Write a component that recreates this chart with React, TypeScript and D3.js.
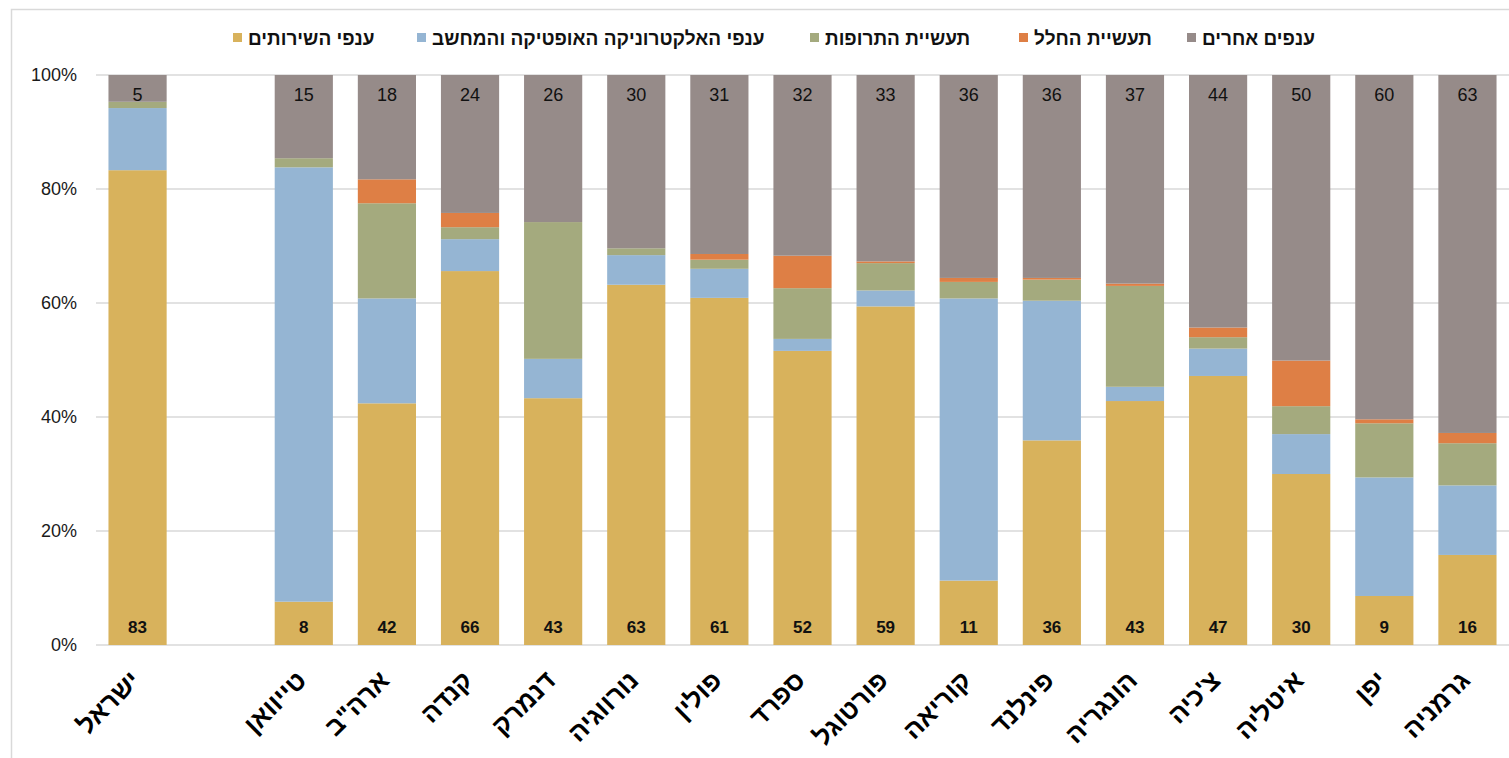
import React from "react";
import * as d3 from "d3";

const categories = ["ישראל", "", "טייוואן", "ארה\"ב", "קנדה", "דנמרק", "נורווגיה", "פולין", "ספרד", "פורטוגל", "קוריאה", "פינלנד", "הונגריה", "צ'כיה", "איטליה", "יפן", "גרמניה"];
const seriesNames = ["ענפי השירותים", "ענפי האלקטרוניקה האופטיקה והמחשב", "תעשיית התרופות", "תעשיית החלל", "ענפים אחרים"];
const services = [83.3, null, 7.6, 42.4, 65.6, 43.3, 63.2, 60.9, 51.6, 59.4, 11.3, 35.9, 42.8, 47.2, 30.0, 8.6, 15.8];
const electronics = [10.9, null, 76.2, 18.4, 5.6, 6.9, 5.2, 5.1, 2.1, 2.8, 49.5, 24.5, 2.5, 4.8, 7.0, 20.8, 12.2];
const pharma = [1.1, null, 1.6, 16.7, 2.1, 24.0, 1.2, 1.6, 8.9, 4.8, 2.9, 3.7, 17.7, 2.0, 4.9, 9.5, 7.4];
const space = [0, null, 0, 4.2, 2.5, 0, 0, 1.0, 5.7, 0.3, 0.7, 0.3, 0.4, 1.7, 8.0, 0.7, 1.8];
const others = [4.7, null, 14.6, 18.3, 24.2, 25.8, 30.4, 31.4, 31.7, 32.7, 35.6, 35.6, 36.6, 44.3, 50.1, 60.4, 62.8];
const yTicks = [0, 0.2, 0.4, 0.6, 0.8, 1.0];
const colors = ["#D8B25C", "#95B5D3", "#A4AA7E", "#DE7F45", "#968B89"];

const W = 1509;
const H = 758;
const plotLeft = 96;
const plotRight = 1509;
const plotTop = 75;
const plotBottom = 645;
const legendX = [248, 432, 825, 1034, 1202];
const FONT = "'Liberation Sans', Arial, sans-serif";

export default function App() {
  const seriesArrays = [services, electronics, pharma, space, others];
  const rows = categories.map((c, i) => {
    const r: any = { cat: c, idx: i, empty: services[i] === null };
    seriesArrays.forEach((arr, k) => (r["s" + k] = arr[i] ?? 0));
    return r;
  });
  const keys = seriesArrays.map((_, k) => "s" + k);
  const stacked = d3.stack<any>().keys(keys).offset(d3.stackOffsetExpand)(rows.map(r => r.empty ? { ...r, s4: 1 } : r));

  const x = d3.scaleBand<string>().domain(categories.map((_, i) => String(i))).range([plotLeft, plotRight]).paddingInner(0.3).paddingOuter(0.15);
  const y = d3.scaleLinear().domain([0, 1]).range([plotBottom, plotTop]);
  const fmt = d3.format(".0%");

  return (
    <svg width={W} height={H} style={{ position: "absolute", left: 0, top: 0, background: "#fff" }} fontFamily={FONT}>
      <rect x={11.5} y={9.5} width={W + 10} height={H + 10} fill="#fff" stroke="#d9d9d9" strokeWidth={1.5} />
      {yTicks.map(t => (
        <g key={t}>
          <line x1={plotLeft} x2={plotRight} y1={y(t)} y2={y(t)} stroke="#d9d9d9" strokeWidth={1.5} />
          <text x={77} y={y(t)} dy="0.35em" textAnchor="end" fontSize={18} fill="#1a1a1a">{fmt(t)}</text>
        </g>
      ))}
      {stacked.map((layer, k) => (
        <g key={k} fill={colors[k]}>
          {layer.map((d, i) => rows[i].empty ? null : (
            <rect key={i} x={x(String(i))} width={x.bandwidth()} y={y(d[1])} height={Math.max(0, y(d[0]) - y(d[1]))} />
          ))}
        </g>
      ))}
      {rows.map((r, i) => r.empty ? null : (
        <g key={"lab" + i}>
          <text x={x(String(i))! + x.bandwidth() / 2} y={101} textAnchor="middle" fontSize={18} fill="#111">{Math.round(others[i] as number)}</text>
          <text x={x(String(i))! + x.bandwidth() / 2} y={633} textAnchor="middle" fontSize={17} fontWeight="bold" fill="#111">{Math.round(services[i] as number)}</text>
        </g>
      ))}
      {rows.map((r, i) => r.empty ? null : (
        <text key={"xl" + i} transform={`translate(${x(String(i))! + x.bandwidth() / 2 + 4},${682}) rotate(-45)`} textAnchor="end" fontSize={26} fontWeight="bold" fill="#000">{r.cat}</text>
      ))}
      {seriesNames.map((n, k) => (
        <g key={"lg" + k}>
          <rect x={legendX[k] - 15} y={33} width={9} height={9} fill={colors[k]} />
          <text x={legendX[k]} y={38} dy="0.35em" fontSize={19} fontWeight="bold" fill="#111">{n}</text>
        </g>
      ))}
    </svg>
  );
}
